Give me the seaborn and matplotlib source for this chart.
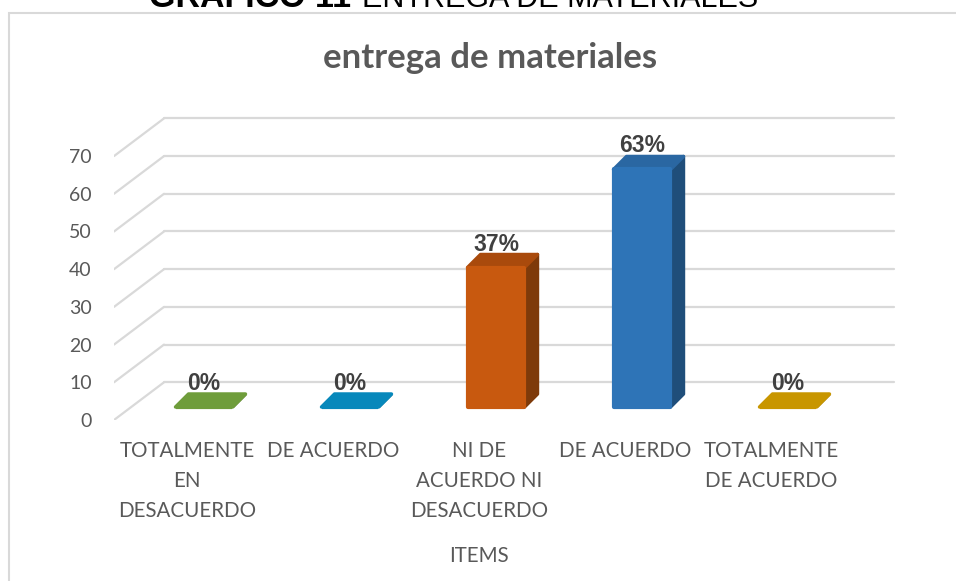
import numpy as np
import pandas as pd
import seaborn as sns
import matplotlib.pyplot as plt
import matplotlib.transforms as mtransforms
from matplotlib.patches import Polygon, Rectangle

# data
categories = ["TD", "ED", "NAND", "DA", "TA"]
tick_labels = ["TOTALMENTE\nEN\nDESACUERDO", "DE ACUERDO",
               "NI DE\nACUERDO NI\nDESACUERDO", "DE ACUERDO",
               "TOTALMENTE\nDE ACUERDO"]
values = [0, 0, 37, 63, 0]
y_ticks = [0, 10, 20, 30, 40, 50, 60, 70]

front_colors = ["#6F9D3B", "#0788BB", "#C8590F", "#2E74B7", "#C89600"]
side_colors = ["#4E6E29", "#055F83", "#7E3A0A", "#1F4E7A", "#8C6900"]
top_colors = ["#6A9638", "#0682B2", "#A94A0C", "#2A67A2", "#BF8F00"]

df = pd.DataFrame({"cat": categories, "val": values})

sns.set_theme(style="white")
plt.rcParams["font.family"] = ["Lato", "DejaVu Sans"]

fig = plt.figure(figsize=(9.56, 5.81), dpi=100)
ax = fig.add_axes([114 / 956, 1 - 420 / 581, 782 / 956, 310 / 581])

sns.barplot(data=df, x="cat", y="val", hue="cat", palette=front_colors,
            legend=False, width=0.39, saturation=1, ax=ax, zorder=3)

ax.set_xlim(-0.5, -0.5 + 782 / 146)
ax.set_ylim(0, 310 / 3.77)

# 3D-ish depth of the chart floor/back wall (data units)
DX = 50 / 146
DY = 10
grid_col = "#D9D9D9"
for v in y_ticks:
    ax.plot([-0.5, -0.5 + DX], [v, v + DY], color=grid_col, lw=1.6, zorder=0)
    ax.plot([-0.5 + DX, len(categories) - 0.5 + DX], [v + DY, v + DY],
            color=grid_col, lw=1.6, zorder=0)

# bars sit a bit into the depth
bar_trans = mtransforms.offset_copy(ax.transData, fig=fig, x=17, y=13, units="dots")
lab_trans = mtransforms.offset_copy(ax.transData, fig=fig, x=17, y=12, units="dots")
bdx = 13 / 146
bdy = 13 / 3.77

bars = sorted(ax.patches, key=lambda p: p.get_x())
for p, v, fc, sc, tc in zip(bars, values, front_colors, side_colors, top_colors):
    p.set_transform(bar_trans)
    p.set_edgecolor(fc)
    p.set_linewidth(3)
    p.set_joinstyle("round")
    x0, y0, w, h = p.get_x(), p.get_y(), p.get_width(), p.get_height()
    side = Polygon([(x0 + w, y0), (x0 + w + bdx, y0 + bdy),
                    (x0 + w + bdx, y0 + h + bdy), (x0 + w, y0 + h)],
                   closed=True, facecolor=sc, edgecolor=sc, lw=2.5,
                   joinstyle="round", transform=bar_trans, zorder=2.9)
    top = Polygon([(x0, y0 + h), (x0 + bdx, y0 + h + bdy),
                   (x0 + w + bdx, y0 + h + bdy), (x0 + w, y0 + h)],
                  closed=True, facecolor=tc if h > 0 else fc,
                  edgecolor=tc if h > 0 else fc, lw=2.5,
                  joinstyle="round", transform=bar_trans, zorder=2.95)
    ax.add_patch(side)
    ax.add_patch(top)
    ax.text(x0 + w / 2, y0 + h + bdy, f"{v}%", transform=lab_trans,
            ha="center", va="bottom", fontsize=16.5, fontweight="bold",
            color="#404040", family=["Liberation Sans", "DejaVu Sans"], zorder=4)

for s in ax.spines.values():
    s.set_visible(False)
ax.grid(False)
ax.set_yticks(y_ticks)
ax.tick_params(axis="y", length=0, pad=16, labelsize=14, labelcolor="#595959")
ax.set_xticks(range(len(categories)))
ax.set_xticklabels(tick_labels)
ax.tick_params(axis="x", length=0, pad=15, labelsize=14.8, labelcolor="#595959")
for t in ax.get_xticklabels():
    t.set_linespacing(1.64)
ax.set_ylabel("")
ax.set_xlabel("ITEMS", fontsize=14.8, color="#595959")
ax.xaxis.set_label_coords(0.467, -0.405)

fig.text(490 / 956, 1 - 58 / 581, "entrega de materiales", ha="center",
         va="center", fontsize=25, fontweight="bold", color="#595959")

# heading cut by the top edge
fig.text(351 / 956, 1 - 7 / 581, "GRÁFICO 11", ha="right", va="baseline",
         fontsize=24.5, fontweight="bold", color="black",
         family=["Liberation Sans", "DejaVu Sans"])
fig.text(362 / 956, 1 - 7 / 581, "ENTREGA DE MATERIALES", ha="left",
         va="baseline", fontsize=22, color="black",
         family=["Liberation Sans", "DejaVu Sans"])

# chart frame
fig.add_artist(Rectangle((9 / 956, -0.1), 1.2, 1 - 13 / 581 + 0.1,
                         transform=fig.transFigure, fill=False,
                         edgecolor="#D9D9D9", lw=1.5))

plt.savefig("out.png", dpi=100)
